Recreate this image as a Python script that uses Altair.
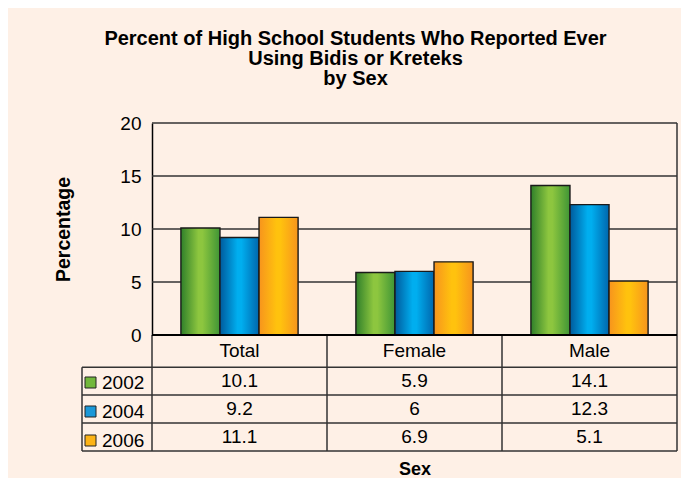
import altair as alt
import pandas as pd

# ---------------- data ----------------
title_lines = ["Percent of High School Students Who Reported Ever",
               "Using Bidis or Kreteks", "by Sex"]
categories = ["Total", "Female", "Male"]
years = ["2002", "2004", "2006"]
values_2002 = [10.1, 5.9, 14.1]
values_2004 = [9.2, 6, 12.3]
values_2006 = [11.1, 6.9, 5.1]
y_ticks = [0, 5, 10, 15, 20]
y_title = "Percentage"
x_title = "Sex"

series = {"2002": values_2002, "2004": values_2004, "2006": values_2006}
rows = []
for yi, yr in enumerate(years):
    for ci, cat in enumerate(categories):
        v = series[yr][ci]
        rows.append({"sex": cat, "ci": ci, "year": yr, "yi": yi,
                     "value": v, "label": f"{v:g}"})
df = pd.DataFrame(rows)

# ---------------- layout ----------------
W, H = 595, 328           # plot area incl. data table
LEG = 0.4                 # legend column width (column units)
COLW = W / (3 + LEG)      # px per column
BAR_H = 212               # px height of the bar panel
HEADER = 1.15             # header row height (row units)
FONT = "Liberation Sans"
FS = 19
BG = "#FEF0E6"

x_band = alt.Scale(domain=categories, range=[LEG * COLW, W],
                   paddingInner=0, paddingOuter=0)
x_lin = alt.Scale(domain=[-LEG, 3], range=[0, W], nice=False, zero=False)
y_bar = alt.Scale(domain=[0, 20], range=[BAR_H, 0], nice=False)
y_tab = alt.Scale(domain=[0, HEADER + 3], range=[BAR_H, H], nice=False, zero=False)
y_rows = alt.Scale(domain=years,
                   range=[BAR_H + (H - BAR_H) * HEADER / (HEADER + 3), H],
                   paddingInner=0, paddingOuter=0)

def grad(c_edge_l, c_mid, c_edge_r):
    return alt.LinearGradient(
        gradient="linear", x1=0, y1=0, x2=1, y2=0,
        stops=[alt.GradientStop(offset=0, color=c_edge_l),
               alt.GradientStop(offset=0.45, color=c_mid),
               alt.GradientStop(offset=0.55, color=c_mid),
               alt.GradientStop(offset=1, color=c_edge_r)])

gradients = {
    "2002": grad("#2f7f2a", "#8dc63f", "#3f9535"),
    "2004": grad("#005a9c", "#00aeef", "#0066ad"),
    "2006": grad("#f7941d", "#ffc20e", "#f7941d"),
}
legend_colors = ["#72b83c", "#1a98d8", "#fcb316"]
LINE = "#333333"

# ---------------- gridlines & borders ----------------
grid = alt.Chart(pd.DataFrame({"v": y_ticks[1:]})).mark_rule(
    color=LINE, strokeWidth=1.4).encode(
    y=alt.Y("v:Q", scale=y_bar, axis=None),
    x=alt.X(datum=0, scale=x_lin, axis=None),
    x2=alt.X2(datum=3))

right_border = alt.Chart(pd.DataFrame({"v": [3]})).mark_rule(
    color=LINE, strokeWidth=1.5).encode(
    x=alt.X("v:Q", scale=x_lin, axis=None),
    y=alt.Y(datum=0, scale=y_bar, axis=None),
    y2=alt.Y2(datum=20))

# ---------------- bars ----------------
bar_layers = []
for i, yr in enumerate(years):
    yax = None
    if i == 0:
        yax = alt.Axis(values=y_ticks, offset=-LEG * COLW, ticks=False, grid=False,
                       domain=True, domainColor="black", domainWidth=1.5,
                       labelFontSize=FS, labelPadding=11, labelColor="black",
                       labelFont=FONT,
                       title=y_title, titleFontSize=19.5, titleFontWeight="bold",
                       titleColor="black", titlePadding=46, titleFont=FONT)
    bar_layers.append(
        alt.Chart(df).transform_filter(alt.datum.year == yr).mark_bar(
            fill=gradients[yr], stroke="#1a1a1a", strokeWidth=1.4).encode(
            x=alt.X("sex:N", scale=x_band, axis=None),
            xOffset=alt.XOffset("year:N", scale=alt.Scale(
                domain=years, paddingInner=0, paddingOuter=0.74)),
            y=alt.Y("value:Q", scale=y_bar, axis=yax)))

# ---------------- data table ----------------
h_lines = alt.Chart(pd.DataFrame({"b": [HEADER + k for k in range(4)]})).mark_rule(
    color=LINE, strokeWidth=1.5).encode(
    y=alt.Y("b:Q", scale=y_tab, axis=None),
    x=alt.X(datum=-LEG, scale=x_lin, axis=None),
    x2=alt.X2(datum=3))

v_lines = alt.Chart(pd.DataFrame({"c": [0, 1, 2, 3]})).mark_rule(
    color=LINE, strokeWidth=1.5).encode(
    x=alt.X("c:Q", scale=x_lin, axis=None),
    y=alt.Y(datum=0, scale=y_tab, axis=None),
    y2=alt.Y2(datum=HEADER + 3))

leg_line = alt.Chart(pd.DataFrame({"c": [-LEG]})).mark_rule(
    color=LINE, strokeWidth=1.5).encode(
    x=alt.X("c:Q", scale=x_lin, axis=None),
    y=alt.Y(datum=HEADER, scale=y_tab, axis=None),
    y2=alt.Y2(datum=HEADER + 3))

baseline = alt.Chart(pd.DataFrame({"v": [0]})).mark_rule(
    color="black", strokeWidth=2).encode(
    y=alt.Y("v:Q", scale=y_tab, axis=None),
    x=alt.X(datum=0, scale=x_lin, axis=None),
    x2=alt.X2(datum=3))

header_text = alt.Chart(pd.DataFrame({"sex": categories})).mark_text(
    fontSize=FS, color="black", baseline="middle", font=FONT).encode(
    x=alt.X("sex:N", scale=x_band, axis=None),
    y=alt.Y(datum=HEADER / 2, scale=y_tab, axis=None),
    text="sex:N")

value_text = alt.Chart(df).mark_text(
    fontSize=FS, color="black", baseline="middle", font=FONT).encode(
    x=alt.X("sex:N", scale=x_band,
            axis=alt.Axis(orient="bottom", labels=False, ticks=False, domain=False,
                          grid=False, title=x_title, titleFontSize=18,
                          titleFontWeight="bold", titleColor="black",
                          titleFont=FONT, titlePadding=9)),
    y=alt.Y("year:N", scale=y_rows, axis=None),
    text="label:N")

legend_layer = alt.Chart(pd.DataFrame({"year": years})).mark_square(
    opacity=0, size=0).encode(
    color=alt.Color("year:N", scale=alt.Scale(domain=years, range=legend_colors),
                    legend=alt.Legend(orient="none", legendX=-1, legendY=250,
                                      title=None, symbolType="square",
                                      symbolSize=121, symbolOpacity=1,
                                      symbolStrokeColor="#222222",
                                      symbolStrokeWidth=1,
                                      labelFontSize=FS, labelColor="black",
                                      labelFont=FONT, labelOffset=2,
                                      rowPadding=9, padding=0)))

chart = alt.layer(
    grid, *bar_layers, right_border, h_lines, v_lines, leg_line, baseline,
    header_text, value_text, legend_layer
).resolve_scale(
    x="independent", y="independent", color="independent"
).properties(
    width=W, height=H,
    autosize=alt.AutoSizeParams(type="none"),
    padding={"left": 74, "top": 115, "right": 4, "bottom": 27},
    background=BG,
    title=alt.TitleParams(text=title_lines, fontSize=20, fontWeight="bold",
                          anchor="middle", frame="group", dx=-24, offset=25,
                          lineHeight=20, color="black", font=FONT)
).configure_view(
    stroke="transparent", strokeWidth=0, strokeOpacity=0, fill=BG
).configure(
    font=FONT, style={"cell": {"stroke": "transparent", "strokeWidth": 0}}
)

chart.save("out.html", embed_options={"renderer": "svg", "actions": False})
